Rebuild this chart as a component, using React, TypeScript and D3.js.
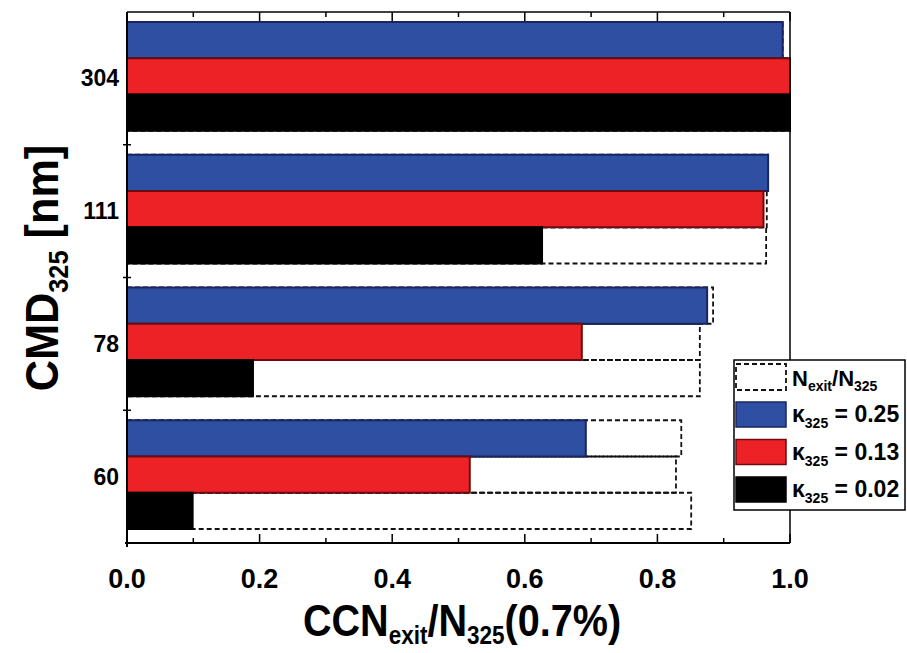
import React from 'react';
import * as d3 from 'd3';

const WIDTH = 907;
const HEIGHT = 653;
const MARGIN = { top: 12, right: 117, bottom: 110, left: 127 };

const CATEGORIES = ["304", "111", "78", "60"];
const SERIES = ["0.25", "0.13", "0.02"];
const COLORS = ["#2e4fa2", "#ec2227", "#000000"];
const STROKES = ["#1a2560", "#6a0c10", "#000000"];

// CCN_exit / N_325 per series, by category
const BLUE = [0.989, 0.967, 0.875, 0.692];
const RED = [1.0, 0.96, 0.686, 0.517];
const BLACK = [1.0, 0.626, 0.19, 0.099];
// N_exit / N_325 (dashed outlines)
const NEXIT_BLUE = [0.989, 0.967, 0.884, 0.836];
const NEXIT_RED = [1.0, 0.965, 0.864, 0.828];
const NEXIT_BLACK = [1.0, 0.964, 0.864, 0.851];

const X_TICKS = [0, 0.2, 0.4, 0.6, 0.8, 1.0];

const FONT = "'Liberation Sans', Arial, sans-serif";

export default function App() {
    const values = [BLUE, RED, BLACK];
    const nexit = [NEXIT_BLUE, NEXIT_RED, NEXIT_BLACK];

    const x = d3.scaleLinear()
        .domain([0, 1])
        .range([MARGIN.left, WIDTH - MARGIN.right]);

    const y = d3.scaleBand()
        .domain(CATEGORIES)
        .range([MARGIN.top, HEIGHT - MARGIN.bottom])
        .padding(0);

    const inner = d3.scaleBand()
        .domain(d3.range(SERIES.length).map(String))
        .range([10, y.bandwidth() - 14])
        .padding(0);

    const x0 = x(0);
    const x1 = x(1);
    const yTop = MARGIN.top;
    const yBot = HEIGHT - MARGIN.bottom;
    const minor = d3.range(0, 1.0001, 0.1);

    return (
        <svg width={WIDTH} height={HEIGHT} style={{ position: "absolute", left: 0, top: 0, background: "#fff" }}
            fontFamily={FONT} fontWeight="bold">
            {/* dashed N_exit outlines */}
            {CATEGORIES.map((c, ci) => nexit.map((s, si) => (
                <rect key={`n${ci}-${si}`}
                    x={x0} y={(y(c) as number) + (inner(String(si)) as number)}
                    width={x(s[ci]) - x0} height={inner.bandwidth()}
                    fill="none" stroke="#111" strokeWidth={1.8} strokeDasharray="5 3" />
            )))}
            {/* bars */}
            {CATEGORIES.map((c, ci) => values.map((s, si) => (
                <rect key={`b${ci}-${si}`}
                    x={x0} y={(y(c) as number) + (inner(String(si)) as number)}
                    width={x(s[ci]) - x0} height={inner.bandwidth()}
                    fill={COLORS[si]} stroke={STROKES[si]} strokeWidth={2} />
            )))}

            {/* frame */}
            <line x1={x0} x2={x1} y1={yTop} y2={yTop} stroke="#000" strokeWidth={1.5} />
            <line x1={x1} x2={x1} y1={yTop} y2={yBot} stroke="#000" strokeWidth={1.5} />
            <line x1={x0} x2={x0} y1={yTop} y2={yBot + 4} stroke="#000" strokeWidth={2} />
            <line x1={x0 - 2} x2={x1} y1={yBot} y2={yBot} stroke="#000" strokeWidth={2} />

            {/* x ticks bottom and top */}
            {minor.map((t, i) => {
                const major = i % 2 === 0;
                return (
                    <g key={`t${i}`}>
                        <line x1={x(t)} x2={x(t)} y1={yBot} y2={yBot - (major ? 9 : 5)} stroke="#000" strokeWidth={1.5} />
                        <line x1={x(t)} x2={x(t)} y1={yTop} y2={yTop + (major ? 9 : 5)} stroke="#000" strokeWidth={1.5} />
                    </g>
                );
            })}
            {X_TICKS.map((t) => (
                <text key={`xl${t}`} x={x(t)} y={yBot + 45} textAnchor="middle" fontSize={27}>
                    {d3.format(".1f")(t)}
                </text>
            ))}

            {/* y ticks at category boundaries */}
            {CATEGORIES.slice(1).map((c) => (
                <line key={`yt${c}`} x1={x0 - 4} x2={x0 + 4} y1={y(c) as number} y2={y(c) as number} stroke="#000" strokeWidth={1.5} />
            ))}
            {CATEGORIES.map((c) => (
                <text key={`yl${c}`} x={x0 - 8} y={(y(c) as number) + y.bandwidth() / 2 + 8}
                    textAnchor="end" fontSize={23}>{c}</text>
            ))}

            {/* axis titles */}
            <text transform="translate(462,636) scale(0.9,1)" textAnchor="middle" fontSize={44}>
                CCN<tspan fontSize={25} dy={8}>exit</tspan><tspan dy={-8}>/N</tspan>
                <tspan fontSize={25} dy={8}>325</tspan><tspan dy={-8}>(0.7%)</tspan>
            </text>
            <text transform={`translate(58,268) rotate(-90) scale(0.94,1)`} textAnchor="middle" fontSize={46}>
                CMD<tspan fontSize={27} dy={10}>325</tspan><tspan dy={-10}> [nm]</tspan>
            </text>

            {/* legend */}
            <g>
                <rect x={734} y={360} width={171} height={150} fill="#fff" stroke="#000" strokeWidth={1.5} />
                <rect x={736} y={364} width={50} height={26} fill="none" stroke="#111" strokeWidth={1.8} strokeDasharray="5 3" />
                <text x={792} y={386} fontSize={22}>
                    N<tspan fontSize={14} dy={5}>exit</tspan><tspan dy={-5}>/N</tspan><tspan fontSize={14} dy={5}>325</tspan>
                </text>
                {SERIES.map((s, i) => (
                    <g key={`lg${s}`}>
                        <rect x={736} y={402 + i * 37.5} width={50} height={25} fill={COLORS[i]} stroke={STROKES[i]} strokeWidth={1.5} />
                        <text x={792} y={422 + i * 37.5} fontSize={23}>
                            κ<tspan fontSize={14} dy={6}>325</tspan><tspan dy={-6}> = {s}</tspan>
                        </text>
                    </g>
                ))}
            </g>
        </svg>
    );
}
